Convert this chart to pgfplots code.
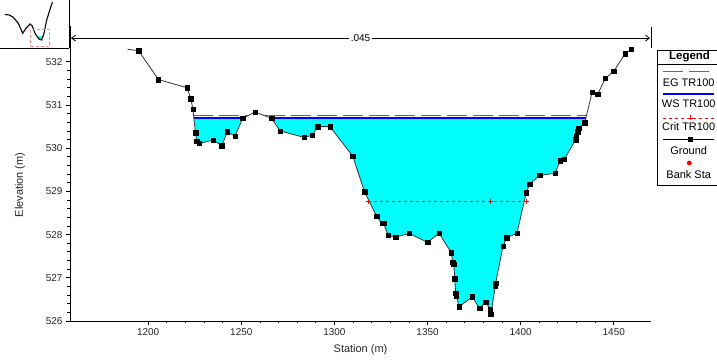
\documentclass[border=0pt]{standalone}
\usepackage{fontspec}
\setmainfont{Liberation Sans}
\usepackage{pgfplots}
\pgfplotsset{compat=1.18}
\usepackage{pgfplotstable}
\usetikzlibrary{arrows.meta}
\definecolor{egreen}{RGB}{40,150,40}
\definecolor{wsblue}{RGB}{0,0,255}
\definecolor{water}{RGB}{0,255,255}
\definecolor{critred}{RGB}{255,0,0}

\pgfplotstableread{
s e
1188.9 532.29
1194.8 532.26
1205.5 531.59
1220.8 531.40
1222.9 531.15
1224.0 530.90
1225.4 530.36
1226.1 530.16
1227.3 530.11
1235.0 530.19
1239.5 530.06
1242.5 530.38
1246.6 530.28
1250.7 530.69
1257.4 530.84
1266.3 530.69
1270.8 530.40
1283.8 530.25
1288.0 530.30
1291.0 530.50
1297.6 530.50
1309.8 529.82
1316.2 528.99
1322.6 528.43
1325.5 528.26
1326.5 528.26
1328.8 527.98
1333.0 527.94
1340.1 528.03
1350.0 527.82
1356.2 528.03
1362.8 527.58
1363.5 527.36
1364.1 527.31
1364.6 526.98
1365.1 526.65
1365.5 526.59
1366.9 526.33
1374.1 526.56
1377.9 526.29
1381.2 526.44
1383.5 526.28
1384.0 526.16
1386.4 526.81
1386.6 526.88
1390.5 527.73
1392.6 527.93
1398.0 528.03
1403.0 528.97
1404.8 529.17
1410.2 529.37
1418.4 529.42
1421.3 529.71
1423.4 529.74
1429.5 530.20
1429.8 530.28
1430.7 530.38
1431.2 530.46
1434.4 530.59
1438.4 531.30
1441.4 531.25
1445.5 531.62
1450.0 531.78
1456.1 532.19
1459.3 532.29
}\ground

\begin{document}
\begin{tikzpicture}
\path[use as bounding box] (0bp,0bp) rectangle (717bp,363bp);

% ---------------- main cross section ----------------
\begin{axis}[
  at={(70bp,42bp)}, anchor=south west, scale only axis, width=581bp, height=295bp,
  xmin=1158, xmax=1470, ymin=526, ymax=532.83,
  axis x line*=bottom, axis y line*=left,
  axis line style={-, line width=0.8bp, black},
  xtick={1200,1250,...,1450}, ytick={526,527,...,532},
  minor x tick num=4, minor y tick num=4,
  tick align=outside, major tick length=4bp, minor tick length=2.5bp,
  tick style={black, line width=0.8bp},
  ticklabel style={font=\fontsize{10}{12}\selectfont, text=black!85},
  /pgf/number format/assume math mode=true,
  /pgf/number format/1000 sep={},
  xlabel={Station (m)}, ylabel={Elevation (m)},
  label style={font=\fontsize{11}{13}\selectfont, text=black!85},
  xlabel style={at={(axis description cs:0.5,-0.097)}, anchor=center},
  ylabel style={at={(axis description cs:-0.086,0.461)}, anchor=center},
  clip=false,
]
% water fill
\addplot[fill=water, draw=none, forget plot] coordinates {
(1224.5,530.71) (1225.4,530.36) (1226.1,530.16) (1227.3,530.11) (1235.0,530.19)
(1239.5,530.06) (1242.5,530.38) (1246.6,530.28) (1250.7,530.69) (1250.8,530.71)} -- cycle;
\addplot[fill=water, draw=none, forget plot] coordinates {
(1265.6,530.71) (1266.3,530.69) (1270.8,530.40) (1283.8,530.25) (1288.0,530.30)
(1291.0,530.50) (1297.6,530.50) (1309.8,529.82) (1316.2,528.99) (1322.6,528.43)
(1325.5,528.26) (1326.5,528.26) (1328.8,527.98) (1333.0,527.94) (1340.1,528.03)
(1350.0,527.82) (1356.2,528.03) (1362.8,527.58) (1363.5,527.36) (1364.1,527.31)
(1364.6,526.98) (1365.1,526.65) (1365.5,526.59) (1366.9,526.33) (1374.1,526.56)
(1377.9,526.29) (1381.2,526.44) (1383.5,526.28) (1384.0,526.16) (1386.4,526.81)
(1386.6,526.88) (1390.5,527.73) (1392.6,527.93) (1398.0,528.03) (1403.0,528.97)
(1404.8,529.17) (1410.2,529.37) (1418.4,529.42) (1421.3,529.71) (1423.4,529.74)
(1429.5,530.20) (1429.8,530.28) (1430.7,530.38) (1431.2,530.46) (1434.4,530.59)
(1435.1,530.71)} -- cycle;
% EG
\addplot[egreen, line width=1bp, dash pattern=on 20bp off 6bp, forget plot] coordinates {(1224.3,530.75) (1253.4,530.75)};
\addplot[egreen, line width=1bp, dash pattern=on 20bp off 6bp, forget plot] coordinates {(1262.7,530.75) (1435.3,530.75)};
% WS
\addplot[wsblue, line width=2bp, forget plot] coordinates {(1224.5,530.71) (1250.8,530.71)};
\addplot[wsblue, line width=2bp, forget plot] coordinates {(1265.6,530.71) (1435.1,530.71)};
% Crit
\addplot[critred, line width=0.8bp, dash pattern=on 3bp off 3bp, mark=+, mark size=2.5bp,
  mark options={solid}, forget plot] coordinates {(1318.1,528.76) (1383.9,528.76) (1403.0,528.76)};
% Ground
\addplot[black!80, line width=0.8bp, forget plot] table[x=s, y=e] {\ground};
\addplot[only marks, mark=square*, mark size=2.2bp, black, restrict x to domain=1190:1500,
  forget plot] table[x=s, y=e] {\ground};
% n-value arrow
\draw[black, line width=0.8bp, {Straight Barb[length=4bp,width=6bp]}-{Straight Barb[length=4bp,width=6bp]}]
  (axis cs:1158.5,532.55) -- (axis cs:1469.5,532.55);
\draw[black, line width=0.8bp] (axis cs:1470,532.31) -- (axis cs:1470,532.80);
\node[fill=white, inner sep=1.5bp, font=\fontsize{10}{12}\selectfont] at (axis cs:1314,532.55) {.045};
\end{axis}

% ---------------- thumbnail ----------------
\begin{axis}[
  at={(0bp,315bp)}, anchor=south west, scale only axis, width=69bp, height=48bp,
  xmin=0, xmax=69, ymin=0, ymax=48,
  axis x line*=bottom, axis y line*=right,
  axis line style={-, line width=0.8bp, black},
  xtick=\empty, ytick=\empty, clip=false,
]
\addplot[fill=water, draw=none] coordinates {(37.3,11.5) (39.3,8.7) (41.7,8) (43.7,11.5)} -- cycle;
\addplot[black, line width=1.1bp] coordinates {
(5,33.5) (9.3,33) (13.3,30.7) (18.3,24.7) (22.7,14.7) (26,19.7) (30,24) (32.3,22)
(35,14.7) (37.3,11.3) (39.3,8.7) (41.7,8) (44,14.7) (46.7,28) (50.7,40.7) (52.5,46)};
\addplot[red!45, line width=0.9bp, dash pattern=on 3bp off 2bp] coordinates {
(30.7,1.3) (49.3,1.3) (49.3,18.7) (30.7,18.7) (30.7,1.3)};
\end{axis}

% ---------------- legend ----------------
\begin{axis}[
  at={(657bp,178bp)}, anchor=south west, scale only axis, width=63bp, height=135bp,
  xmin=0, xmax=63, ymin=0, ymax=135,
  axis line style={line width=0.9bp, black},
  xtick=\empty, ytick=\empty, clip=false,
]
\addplot[black, line width=0.8bp] coordinates {(0,121) (63,121)};
\addplot[egreen, line width=1bp, dash pattern=on 20.6bp off 6bp] coordinates {(5.7,113.3) (52.3,113.3)};
\addplot[wsblue, line width=1.2bp] coordinates {(6.3,91) (57,91)};
\addplot[critred, line width=0.8bp, dash pattern=on 3bp off 3bp] coordinates {(6.3,67) (57,67)};
\addplot[critred, only marks, mark=+, mark size=2.5bp] coordinates {(33,67)};
\addplot[black, line width=0.8bp] coordinates {(6.3,46) (57,46)};
\addplot[black, only marks, mark=square*, mark size=2.2bp] coordinates {(33,46)};
\addplot[critred, only marks, mark=*, mark size=2.2bp] coordinates {(32.3,22)};
\node[font=\fontsize{11.5}{13}\selectfont\bfseries] at (axis cs:32.5,128.3) {Legend};
\node[font=\fontsize{11}{13}\selectfont] at (axis cs:31.7,102) {EG TR100};
\node[font=\fontsize{11}{13}\selectfont] at (axis cs:31.7,81) {WS TR100};
\node[font=\fontsize{11}{13}\selectfont] at (axis cs:31.7,58) {Crit TR100};
\node[font=\fontsize{11}{13}\selectfont] at (axis cs:31.7,34) {Ground};
\node[font=\fontsize{11}{13}\selectfont] at (axis cs:31.7,10) {Bank Sta};
\end{axis}
\end{tikzpicture}
\end{document}
